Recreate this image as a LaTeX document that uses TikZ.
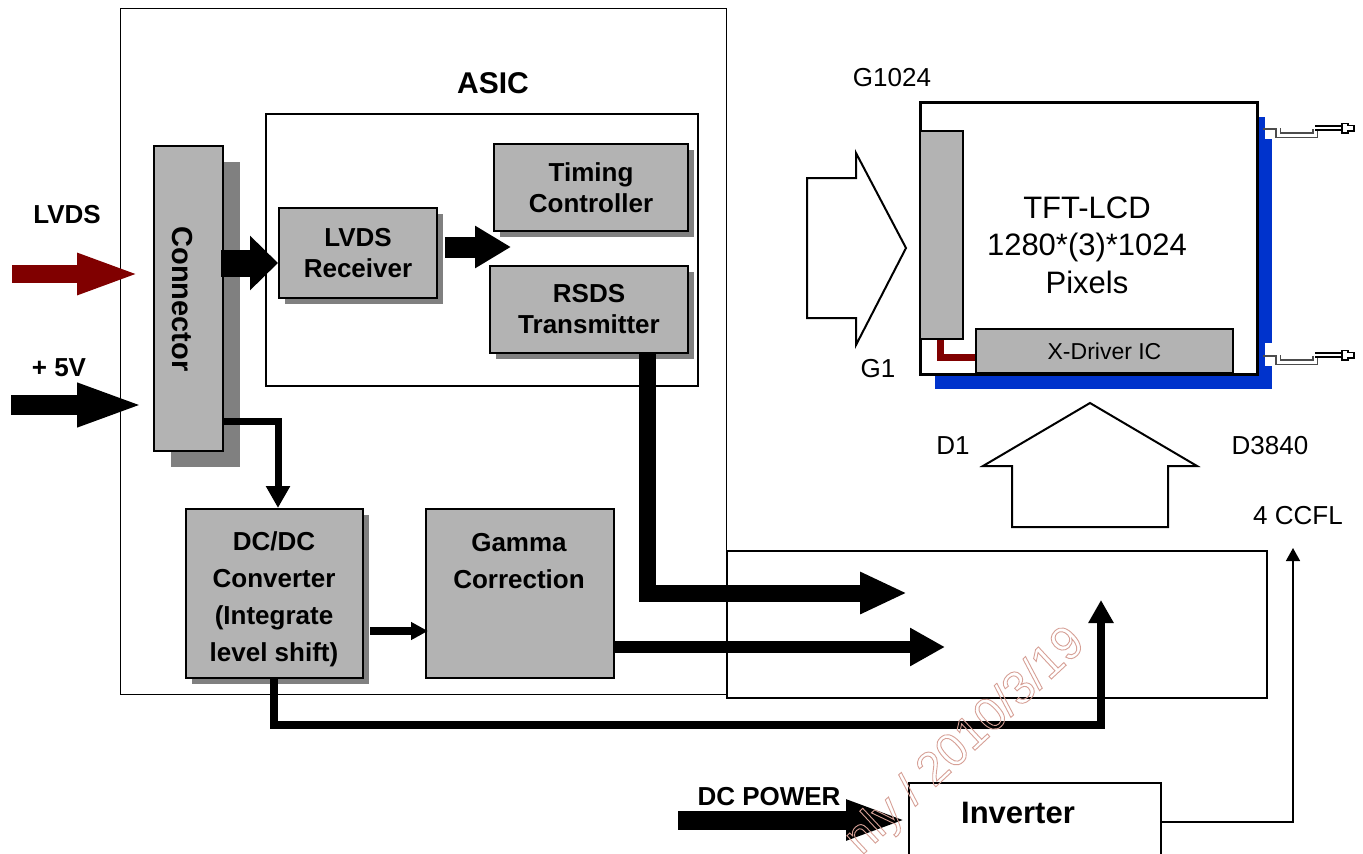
\documentclass[tikz,border=0pt]{standalone}
\usepackage{fontspec}
\setmainfont{Liberation Sans}
\usetikzlibrary{arrows.meta,calc,shadows}
\definecolor{boxgray}{RGB}{179,179,179}
\definecolor{shadowgray}{RGB}{128,128,128}
\definecolor{darkred}{RGB}{128,0,0}
\definecolor{lcdblue}{RGB}{0,51,204}
\definecolor{wmark}{RGB}{214,160,150}
\newcommand{\wmtext}[1]{\special{pdf:literal direct 1 Tr 0.9 w}#1\special{pdf:literal direct 0 Tr}}
\begin{document}
\begin{tikzpicture}[x=1pt,y=-1pt,line join=miter,
  thinbox/.style={draw,line width=1.4pt,inner sep=0pt,anchor=north west},
  medbox/.style={draw,line width=2pt,inner sep=0pt,anchor=north west},
  gbox/.style={draw,line width=2pt,fill=boxgray,inner sep=0pt,align=center,anchor=north west,
    font=\bfseries\fontsize{26}{31}\selectfont},
  shad/.style={drop shadow={shadow xshift=6pt,shadow yshift=-6pt,opacity=1,fill=shadowgray}},
  bigshad/.style={drop shadow={shadow xshift=17pt,shadow yshift=-16pt,opacity=1,fill=shadowgray}},
  lbl/.style={font=\bfseries\fontsize{26}{31}\selectfont,inner sep=0pt},
  rlbl/.style={font=\fontsize{26}{31}\selectfont,inner sep=0pt},
  outarrow/.style={draw,line width=2pt,fill=white},
  wire/.style={line width=1.3pt,draw=black!70}]
\useasboundingbox (0,0) rectangle (1363,854);

% ---------- outer frames ----------
\node[thinbox,minimum width=606pt,minimum height=686pt] (outer) at (120,8) {};
\node[medbox,minimum width=432pt,minimum height=272pt] (asicbox) at (265,113) {};
\node[lbl,font=\bfseries\fontsize{30}{36}\selectfont] (asiclbl) at (493,83) {ASIC};
\node[medbox,minimum width=540pt,minimum height=147pt] (outbox) at (726,550) {};

% ---------- gray blocks ----------
\node[gbox,bigshad,minimum width=69pt,minimum height=305pt] (conn) at (153,145) {};
\node[lbl,rotate=-90,font=\bfseries\fontsize{29}{34}\selectfont] (connlbl) at (182,299) {Connector};
\node[gbox,shad,minimum width=158pt,minimum height=90pt] (lvdsrx) at (278,207) {LVDS\\Receiver};
\node[gbox,shad,minimum width=194pt,minimum height=87pt] (timing) at (493,143) {Timing\\Controller};
\node[gbox,shad,minimum width=198pt,minimum height=87pt] (rsds) at (489,265) {RSDS\\Transmitter};
\node[gbox,shad,minimum width=177pt,minimum height=169pt] (dcdc) at (185,508) {};
\node[lbl,align=center,font=\bfseries\fontsize{26}{37}\selectfont] (dcdclbl) at (274,599)
  {DC/DC\\Converter\\(Integrate\\level shift)};
\node[gbox,minimum width=188pt,minimum height=169pt] (gamma) at (425,508) {};
\node[lbl,align=center,font=\bfseries\fontsize{26}{37}\selectfont] (gammalbl) at (519,561)
  {Gamma\\Correction};

% ---------- inverter ----------
\node[medbox,minimum width=252pt,minimum height=72pt] (inv) at (908,782) {};
\node[lbl,font=\bfseries\fontsize{31}{36}\selectfont] (invlbl) at (1018,813) {Inverter};

% ---------- LCD panel ----------
\fill[lcdblue] (1256,117) rectangle (1272,389);
\fill[lcdblue] (935,373) rectangle (1272,389);
\fill[white] (1265,116) rectangle (1273,139);
\fill[white] (1265,343) rectangle (1273,366);
\node[draw,line width=2.5pt,fill=white,inner sep=0pt,anchor=north west,
  minimum width=337pt,minimum height=272pt] (lcd) at (919,101) {};
\node[gbox,minimum width=43pt,minimum height=208pt] (gdrv) at (919,130) {};
\node[gbox,font=\fontsize{23}{27}\selectfont,minimum width=257pt,minimum height=44pt] (xdrv) at (975,328) {X-Driver IC};
\draw[darkred,line width=7pt] (gdrv.south -| 940,0) -- (940,357) -- (xdrv.west |- 0,357);
\node[rlbl,align=center,font=\fontsize{31}{37.5}\selectfont] (tft) at (1087,245) {TFT-LCD\\1280*(3)*1024\\Pixels};

% CCFL wires
\foreach \dy in {0,227}{
  \begin{scope}[shift={(0,\dy)}]
    \draw[wire] (1263,129) -- (1278,129);
    \draw[line width=1.2pt,draw=black!70,double=white,double distance=3pt] (1278,128) -- (1278,135) -- (1315,135) -- (1315,129);
    \draw[line width=2pt,double=white,double distance=2pt] (1315,128) -- (1343,128);
    \draw[line width=1.3pt,fill=white] (1342,123.5) -- (1348,123.5) -- (1348,125.5) -- (1354,125.5) -- (1354,131)
      -- (1348,131) -- (1348,133) -- (1342,133) -- cycle;
  \end{scope}
}

% outline block arrows
\draw[outarrow] (807,178) -- (856,178) -- (856,153) -- (906,248) -- (856,345) -- (856,318) -- (807,318) -- cycle;
\draw[outarrow] (1090,403) -- (1197,466) -- (1168,466) -- (1168,527) -- (1012,527) -- (1012,466) -- (983,466) -- cycle;

% ---------- labels ----------
\node[lbl] (lvdslbl) at (67,215) {LVDS};
\node[lbl] (pluslbl) at (59,368) {+ 5V};
\node[lbl] (dcpwrlbl) at (769,797) {DC POWER};
\node[rlbl] (g1024) at (892,78) {G1024};
\node[rlbl] (g1) at (878,369) {G1};
\node[rlbl] (d1) at (953,446) {D1};
\node[rlbl] (d3840) at (1270,446) {D3840};
\node[rlbl] (ccfl) at (1298,516) {4 CCFL};

% ---------- connectors ----------
\coordinate (lvdsin) at (12,274);
\coordinate (vin) at (11,405);
\coordinate (dcin) at (678,820);
\coordinate (out1) at (907,593);
\coordinate (out2) at (945,647);
\coordinate (out3) at (1101,600);
\coordinate (ccflpt) at (1293,548);

\draw[darkred,line width=18pt,-{Triangle[length=64pt,width=37pt]}] (lvdsin) -- ($(conn.west |- lvdsin)+(-12,0)$);
\draw[line width=20pt,-{Triangle[length=68pt,width=39pt]}] (vin) -- ($(conn.west |- vin)+(-8,0)$);
\draw[line width=27pt,-{Triangle[length=28pt,width=53pt]}] ($(conn.east |- 0,263)+(-3,0)$) -- (lvdsrx.west |- 0,263);
\draw[line width=21pt,-{Triangle[length=36pt,width=40pt]}] ($(lvdsrx.east |- 0,247)+(7,0)$) -- ($(timing.west |- 0,247)+(18,0)$);
\draw[line width=17pt,-{Triangle[length=47pt,width=39pt]}] (rsds.south -| 647,0) -- (647,593) -- (out1);
\draw[line width=12pt,-{Triangle[length=35pt,width=36pt]}] (gamma.east |- out2) -- (out2);
\draw[line width=7pt,-{Triangle[length=22pt,width=23pt]}] (conn.east |- 0,421) -- (278,421) -- (dcdc.north -| 278,0);
\draw[line width=8pt,-{Triangle[length=17pt,width=17pt]}] ($(dcdc.east |- 0,631)+(6,0)$) -- ($(gamma.west |- 0,631)+(3,0)$);
\draw[line width=8pt,-{Triangle[length=23pt,width=24pt]}] (dcdc.south -| 274,0) -- (274,725) -- (1101,725) -- (out3);
\draw[line width=19pt,-{Triangle[length=62pt,width=36pt]}] (dcin) -- (inv.west |- dcin);
\draw[line width=1.5pt,-{Triangle[length=13pt,width=14pt]}] (inv.east |- 0,822) -- (1293,822) -- (ccflpt);

% watermark
\node[rotate=43,text=wmark,font=\fontsize{47}{52}\selectfont,inner sep=0pt] (wm) at (966,742) {\wmtext{nly / 2010/3/19}};
\end{tikzpicture}
\end{document}
